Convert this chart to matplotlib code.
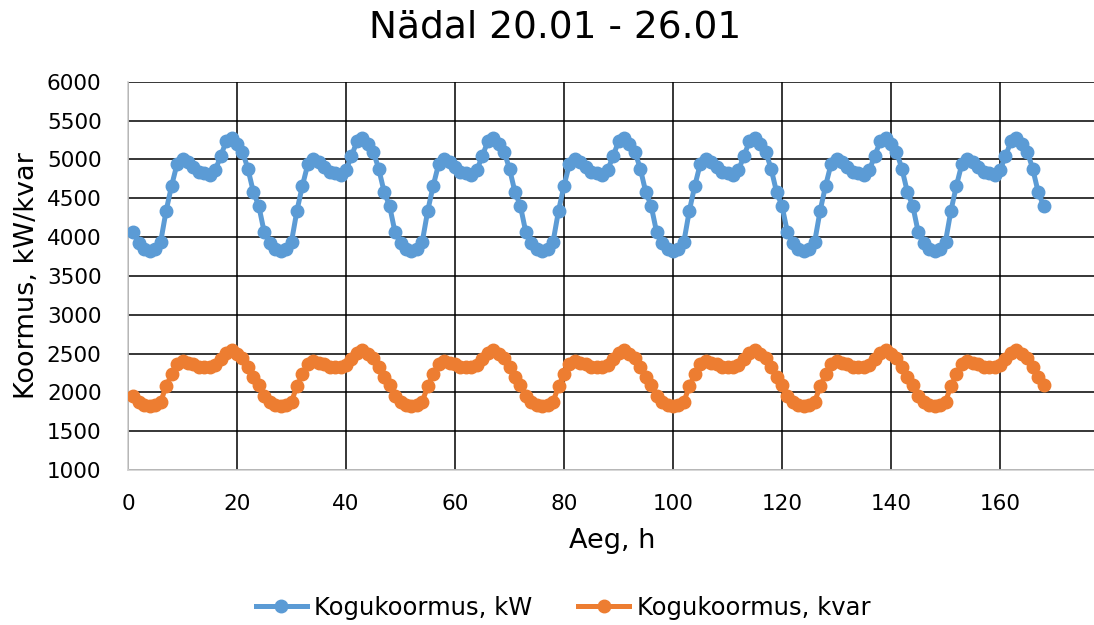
"""Weekly active / reactive load profile, 20.01 - 26.01."""

import matplotlib.pyplot as plt
import numpy as np

# hourly load over one day (hour 1..24), same shape every day of the week
DAY_KW = [4060, 3920, 3840, 3820, 3850, 3940, 4340, 4660, 4940, 5010, 4960, 4900,
          4840, 4820, 4800, 4860, 5040, 5230, 5280, 5200, 5100, 4880, 4580, 4400]
DAY_KVAR = [1950, 1880, 1840, 1830, 1840, 1880, 2080, 2230, 2360, 2400, 2380, 2360,
            2330, 2320, 2320, 2350, 2430, 2510, 2540, 2500, 2440, 2330, 2200, 2100]
N_DAYS = 7

hours = np.arange(1, 24 * N_DAYS + 1)
load_kw = np.tile(DAY_KW, N_DAYS)
load_kvar = np.tile(DAY_KVAR, N_DAYS)

BLUE = "#5B9BD5"
ORANGE = "#ED7D31"

fig = plt.figure(figsize=(10.94, 6.25), dpi=100)
# plot area runs past the right edge of the canvas (x axis goes to 180)
ax = fig.add_axes([128 / 1094, 1 - 470 / 625, (1109 - 128) / 1094, (470 - 81.7) / 625])

ax.plot(hours, load_kw, color=BLUE, lw=3.6, marker="o", ms=9, label="Kogukoormus, kW", zorder=3)
ax.plot(hours, load_kvar, color=ORANGE, lw=3.6, marker="o", ms=9, label="Kogukoormus, kvar", zorder=3)

ax.set_xlim(0, 180)
ax.set_ylim(1000, 6000)
ax.set_xticks(np.arange(0, 181, 20))
ax.set_xticklabels([str(v) if v <= 160 else "" for v in range(0, 181, 20)])
ax.set_yticks(np.arange(1000, 6001, 500))
ax.tick_params(length=0, labelsize=15.5)
ax.tick_params(axis="y", pad=19)
ax.tick_params(axis="x", pad=17)
ax.grid(True, color="black", lw=1.1, zorder=1)

for side in ("top", "right"):
    ax.spines[side].set_visible(False)
for side in ("left", "bottom"):
    ax.spines[side].set_color("#d0d0d0")
    ax.spines[side].set_linewidth(1.2)

ax.set_xlabel("Aeg, h", fontsize=19.5)
ax.xaxis.set_label_coords(612 / 1094, 1 - 541 / 625, transform=fig.transFigure)
ax.set_ylabel("Koormus, kW/kvar", fontsize=19.5)
ax.yaxis.set_label_coords(27 / 1094, 1 - 276 / 625, transform=fig.transFigure)
ax.xaxis.label.set_va("center")
ax.yaxis.label.set_va("center")

fig.text(555 / 1094, 1 - 27 / 625, "Nädal 20.01 - 26.01", fontsize=27, ha="center", va="center")

fig.legend(loc="center", bbox_to_anchor=(563 / 1094, 1 - 608 / 625), ncol=2, frameon=False,
           fontsize=17.5, handlelength=2.1, columnspacing=1.9, handletextpad=0.3)

fig.savefig("out.png", dpi=100)
